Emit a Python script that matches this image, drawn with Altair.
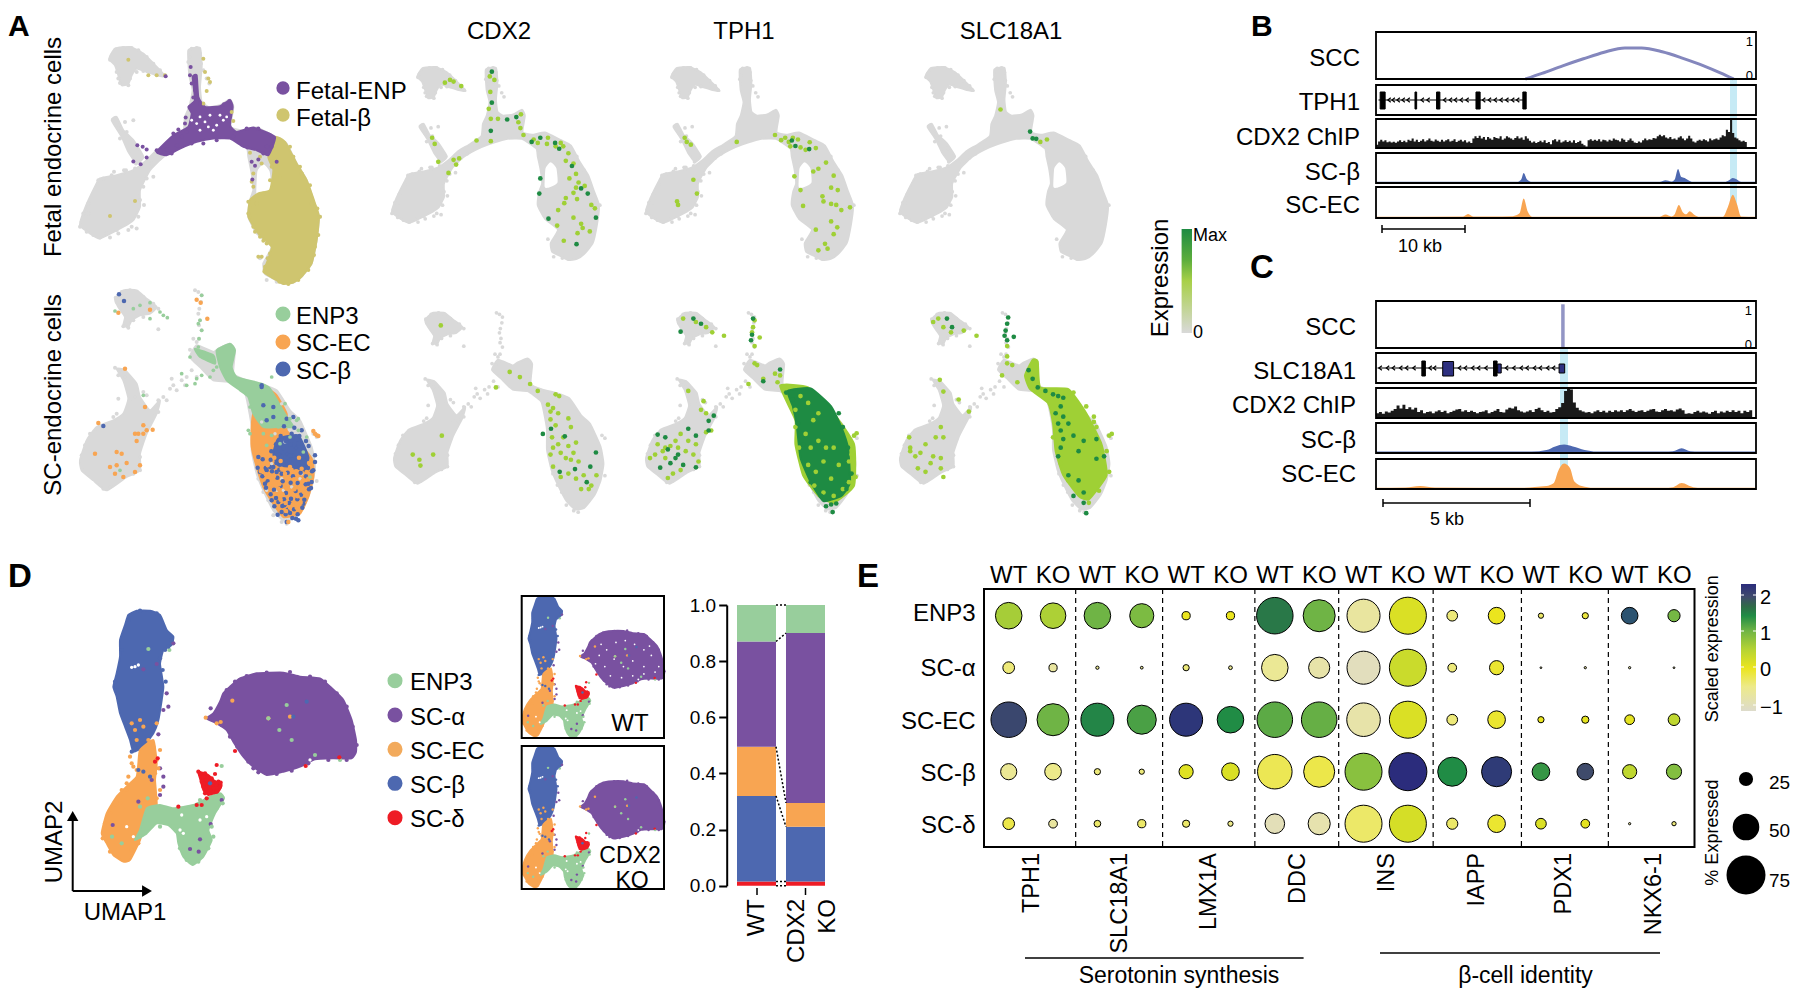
import altair as alt
import pandas as pd

FONT = "Liberation Sans"
BLANK = alt.Data(values=[{"a": 1}])
GRAY = "#D9D9D9"
LIGHT = "#9FD035"
DARK = "#1E8B43"
PURPLE = "#7951A0"
GOLD = "#CFC56F"
GREEN = "#98CE9C"
ORANGE = "#F8A552"
BLUE = "#4D68B0"
RED = "#EE1C25"

# ---------- UMAP shapes (arbitrary embedding units) ----------
F_ISLAND = [(328,175),(345,145),(390,140),(430,160),(470,200),(495,228),(470,225),(440,215),(410,205),(395,225),(385,250),(365,255),(355,225),(345,195)]
F_ARM = [(335,360),(350,350),(370,390),(400,420),(430,470),(410,490),(385,455),(365,410)]
F_MAIN = [(240,675),(255,625),(285,560),(300,535),(350,525),(400,510),(440,480),(470,450),(510,425),(550,395),(555,350),(568,320),(578,270),(568,225),(565,150),(600,143),(605,200),(600,260),(605,305),(625,320),(660,315),(690,298),(700,320),(692,380),(725,390),(770,382),(825,410),(860,430),(890,490),(920,540),(940,600),(957,650),(950,720),(935,790),(905,830),(880,848),(850,852),(825,838),(795,822),(790,790),(815,740),(770,700),(745,650),(750,600),(760,570),(755,520),(745,470),(740,440),(690,405),(640,405),(590,420),(540,440),(490,470),(450,510),(420,570),(420,620),(400,660),(370,680),(300,715),(270,700)]
F_HOLE = [(775,515),(790,495),(806,515),(810,565),(785,580),(772,580)]
F_GRAY_PTS = [(335,165),(330,178),(350,150),(370,143),(395,143),(415,150),(440,170),(460,190),(480,210),(490,225),(355,235),(375,250),(385,255),(360,248),(350,215),(390,235),(410,215),(430,212),(575,145),(590,143),(600,160),(603,190),(570,170),(565,185),(345,355),(375,365),(400,360),(355,385),(380,395),(360,415),(405,440),(420,470),(378,510),(405,505),(245,665),(250,640),(265,610),(285,570),(295,540),(310,535),(335,525),(420,600),(430,560),(440,535),(460,530),(395,680),(410,685),(385,690),(300,712),(280,705),(260,695),(320,700),(350,690),(455,490),(500,460),(480,475),(610,210),(620,235),(628,250),(950,690),(960,650),(905,520),(880,470),(800,840),(830,845),(780,775),(265,640),(240,680),(342,515),(372,510),(408,490),(432,615),(415,650),(355,700),(330,712)]
F_PURPLE = [(470,455),(520,405),(565,380),(575,340),(565,320),(585,300),(578,230),(590,225),(595,290),(615,320),(660,318),(690,300),(698,320),(690,375),(710,395),(760,382),(825,410),(805,465),(770,450),(730,440),(690,415),(640,415),(590,425),(540,445),(500,465)]
F_GOLD = [(825,410),(855,425),(890,490),(920,540),(945,610),(957,650),(950,720),(935,790),(905,830),(880,848),(850,852),(825,838),(790,815),(800,790),(815,740),(775,700),(745,650),(750,600),(775,580),(810,570),(820,510),(805,470)]
F_GOLD_PTS = [(610,175),(615,215),(625,235),(630,245),(620,272),(610,310),(695,335),(700,362),(445,225),(470,225),(495,225),(330,648),(405,603),(385,178),(750,458),(785,490),(760,520),(755,545),(760,560),(790,580),(745,605),(780,470),(840,530),(750,650),(750,620),(745,640),(760,680),(780,710),(800,730),(810,760),(785,770),(795,800),(820,830),(960,650),(950,690),(945,740),(935,610),(925,570),(905,520),(880,470),(810,790),(775,770),(870,440),(900,500),(930,555),(952,625),(955,705),(942,765),(925,810),(895,840),(865,852),(838,845),(765,695),(790,722),(803,775),(770,610),(815,500),(810,540)]
F_PURPLE_PTS = [(497,228),(572,200),(557,352),(535,388),(520,400),(412,435),(428,440),(440,448),(440,472),(400,484),(422,492),(470,450),(755,485),(775,478),(765,497),(757,538),(830,485),(800,440),(742,442),(790,460),(580,292),(585,270),(600,310),(482,452),(500,448),(515,460),(530,435),(545,410),(560,395),(700,410),(740,385),(775,385),(810,405),(815,440),(688,302),(672,312),(575,250),(570,225),(555,370),(585,240),(650,420),(610,430),(575,430)]
F_WHITE = [(600,350),(615,365),(630,345),(650,375),(670,360),(600,390),(640,390),(680,350),(625,380),(660,345),(590,370),(575,360)]

S_ISLAND = [(345,85),(370,60),(410,60),(440,85),(470,110),(450,130),(420,135),(395,150),(385,170),(370,165),(375,140),(355,110)]
S_CENTER = [(570,260),(590,225),(640,245),(655,235),(690,220),(705,240),(700,310),(740,330),(780,340),(830,360),(870,420),(900,450),(935,530),(945,590),(935,650),(915,700),(880,745),(850,750),(820,720),(790,660),(770,610),(755,540),(755,470),(745,410),(735,370),(690,335),(640,330),(600,290)]
S_LEFT = [(240,570),(260,510),(290,470),(340,450),(370,430),(385,385),(370,330),(350,295),(375,300),(410,340),(420,380),(450,420),(480,390),(470,430),(440,490),(420,550),(420,600),(380,620),(320,660),(280,630),(245,600)]
S_GRAY_PTS = [(350,95),(347,82),(365,65),(390,60),(410,65),(430,80),(460,100),(475,115),(370,168),(385,172),(400,150),(430,140),(475,177),(585,60),(595,65),(605,75),(603,95),(598,115),(595,130),(600,150),(597,165),(605,180),(597,205),(590,215),(580,205),(595,240),(570,238),(580,265),(560,320),(545,330),(555,345),(575,300),(590,320),(515,325),(510,355),(530,360),(490,380),(475,390),(500,390),(475,425),(460,438),(520,345),(345,292),(375,320),(355,315),(385,350),(395,385),(405,380),(355,385),(430,365),(440,375),(245,555),(255,525),(270,490),(290,475),(340,440),(350,430),(440,440),(455,440),(420,560),(400,610),(420,600),(310,655),(330,650),(250,600),(775,625),(790,665),(805,690),(820,735),(845,755),(950,632),(780,600),(860,760),(950,500),(940,490)]
S_GREEN1 = [(650,240),(690,220),(705,240),(695,290),(710,320),(785,340),(810,355),(860,440),(880,470),(830,470),(790,470),(760,430),(745,380),(720,360),(680,330),(660,290)]
S_GREEN2 = [(585,235),(640,255),(645,280),(600,260)]
S_ORANGE = [(800,355),(830,375),(860,430),(860,480),(900,520),(938,570),(940,620),(925,680),(900,730),(850,740),(820,700),(790,650),(770,590),(755,530),(755,470),(760,430),(790,390)]
S_BLUE_PTS = [(860,445),(880,440),(852,468),(883,472),(905,480),(842,497),(858,513),(878,502),(898,497),(918,512),(828,522),(851,533),(872,523),(888,533),(911,538),(926,527),(814,543),(837,552),(861,551),(879,556),(902,552),(921,563),(945,555),(788,567),(812,568),(829,578),(851,583),(868,572),(886,592),(907,577),(924,593),(773,592),(797,593),(816,603),(838,598),(863,607),(879,618),(902,607),(918,618),(936,603),(787,618),(803,633),(832,622),(848,633),(872,637),(893,638),(917,642),(933,653),(798,652),(822,658),(842,647),(858,668),(887,662),(903,673),(927,657),(812,672),(828,683),(852,687),(868,698),(892,687),(913,688),(823,708),(847,707),(863,718),(882,717),(907,712),(833,733),(857,732),(877,743),(893,732),(895,750),(860,755),(800,450),(820,410),(790,405),(785,345),(820,440),(775,560),(800,600),(925,640),(845,610),(870,555),(820,590),(900,590),(940,600),(357,72),(372,92),(310,467),(785,350),(845,725),(870,728),(888,745),(910,700),(835,695),(815,690),(795,640),(780,605),(853,705),(873,685),(935,635),(918,600),(945,575),(895,520),(875,490),(810,590),(830,605),(845,560)]
S_BLUE_CORE = [(835,505),(895,495),(925,560),(915,600),(880,590),(835,585),(820,550)]
S_ORANGE_PTS = [(860,620),(882,627),(838,642),(857,652),(883,657),(902,648),(908,632),(848,672),(872,667),(893,678),(842,688),(857,698),(878,703),(902,697),(870,590),(888,603),(842,572),(798,612),(822,617),(783,603),(808,642),(927,578),(933,622),(802,558),(823,562),(788,532),(812,517),(945,490),(950,495),(940,482),(955,497),(897,562),(865,755),(375,295),(295,458),(430,465),(405,490),(415,490),(430,490),(440,480),(458,478),(410,512),(350,545),(365,550),(285,550),(420,585),(405,605),(370,620),(350,585),(330,590),(380,578),(435,410),(345,610),(590,88),(602,97),(622,145),(450,118),(355,127),(870,712),(858,722),(890,712),(825,670),(835,655),(815,635),(925,625),(912,665),(920,605),(775,575),(785,585),(803,585),(855,610),(905,595),(845,595)]
S_GREEN_PTS = [(840,520),(910,545),(800,525),(920,500),(890,450),(870,445),(855,400),(750,490),(820,465),(930,620),(430,375),(360,600),(345,122),(400,115),(450,97),(450,145),(480,125),(490,135),(502,142),(420,105),(605,75),(600,150),(595,160),(605,180),(597,205),(595,230),(570,260),(545,310),(590,325),(605,315),(630,320),(640,300),(650,290),(585,340),(560,345),(815,320),(750,410),(745,480),(870,500),(895,480),(815,495),(790,490),(835,470),(895,445)]
S_SPECK_PTS = [(850,660),(830,660),(800,660),(820,735),(785,455),(825,490),(845,400),(905,610),(855,515),(875,650),(900,625),(845,625),(815,580)]

# ---------- expression points per feature panel ----------
CDX2_F_D = [(180,208),(180,298),(178,380),(210,347),(228,340),(258,412),(275,400),(304,415),(312,432),(337,482),(275,518),(273,562),(355,547),(368,562),(291,635),(384,632),(346,709)]
CDX2_F_L = [(98,232),(88,240),(120,250),(105,237),(176,222),(185,232),(177,267),(174,316),(178,345),(192,345),(237,332),(232,355),(236,372),(242,392),(178,410),(150,408),(63,400),(68,418),(75,470),(95,502),(110,478),(116,460),(105,464),(262,405),(270,415),(290,400),(288,418),(305,425),(315,415),(320,425),(330,445),(325,467),(340,475),(345,505),(332,518),(350,530),(345,545),(340,560),(362,540),(347,578),(325,575),(322,590),(310,610),(375,595),(382,605),(340,632),(355,650),(358,662),(308,655),(348,677),(372,672),(321,699)]
TPH1_F_D = [(768,408),(775,424),(802,433)]
TPH1_F_L = [(558,400),(562,412),(570,420),(660,412),(575,522),(543,585),(545,595),(582,562),(735,392),(747,407),(755,400),(762,412),(770,400),(780,405),(765,425),(785,428),(795,435),(803,413),(815,430),(835,472),(820,490),(810,498),(773,512),(785,552),(850,510),(845,545),(858,552),(828,570),(830,585),(845,592),(855,595),(865,610),(882,602),(790,598),(845,643),(857,660),(815,667),(850,680),(833,708),(838,722),(820,727)]
SLC_F_D = [(1235,382),(1240,402),(1247,403)]
SLC_F_L = [(1177,318),(1268,405),(1255,412)]
CDX2_S_D = [(280,1260),(323,1267),(296,1245),(343,1362),(373,1355),(313,1370),(384,1314),(366,1400)]
CDX2_S_L = [(80,945),(255,1115),(270,1135),(290,1175),(300,1185),(305,1145),(312,1150),(295,1195),(310,1200),(330,1215),(295,1218),(305,1235),(335,1240),(298,1270),(310,1290),(320,1270),(345,1285),(330,1295),(300,1300),(295,1320),(315,1315),(325,1330),(340,1315),(335,1335),(300,1355),(350,1340),(315,1385),(330,1375),(345,1390),(360,1380),(375,1410),(385,1380),(355,1420),(370,1420),(215,1080),(235,1095),(188,1125),(82,1265),(38,1335),(40,1352),(65,1320),(25,1320)]
TPH1_S_UNDER = [(745,1120),(800,1125),(850,1200),(890,1290),(890,1410),(850,1460),(820,1440),(790,1380),(775,1290),(775,1220)]
TPH1_S_MASS = [(760,1135),(805,1128),(845,1180),(865,1240),(878,1300),(882,1400),(865,1440),(830,1455),(805,1400),(785,1330),(778,1240),(770,1180)]
TPH1_S_D = [(575,925),(590,940),(550,963),(692,925),(690,972),(688,988),(745,1073),(712,1107),(605,1222),(615,1207),(520,1270),(505,1262),(525,1305),(565,1245),(580,1265),(545,1320),(530,1345),(555,1350),(540,1330),(510,1358),(580,1357),(605,1250),(757,1140),(770,1160),(845,1465),(835,1470),(855,1462),(848,1487),(868,1240),(878,1300),(885,1375),(875,1420),(805,1400),(825,1440),(790,1290),(780,1230),(860,1200)]
TPH1_S_L = [(555,925),(580,935),(600,950),(612,965),(635,975),(695,930),(692,950),(690,965),(705,980),(695,1005),(695,1055),(700,1060),(745,1090),(735,1085),(683,1115),(712,1100),(740,1110),(565,1135),(595,1165),(590,1190),(600,1200),(505,1290),(520,1300),(500,1320),(490,1330),(515,1310),(530,1295),(540,1280),(550,1260),(565,1280),(580,1290),(545,1300),(560,1310),(520,1330),(575,1320),(585,1340),(535,1375),(525,1388),(550,1365),(600,1255),(610,1250),(895,1258),(890,1265),(885,1320),(880,1340),(893,1385),(880,1400),(775,1240),(820,1280),(805,1300),(830,1340),(815,1370),(845,1390),(835,1300),(810,1220),(830,1430),(800,1170),(820,1200),(785,1150),(775,1190),(795,1260),(782,1300),(800,1350),(812,1410),(850,1300),(860,1350),(868,1420),(850,1440)]
SLC_S_MASS = [(1240,1045),(1250,1050),(1255,1125),(1310,1130),(1345,1200),(1375,1290),(1385,1380),(1350,1450),(1330,1440),(1300,1380),(1285,1310),(1280,1230),(1270,1170),(1235,1130),(1225,1090)]
SLC_S_D = [(1072,925),(1082,950),(1192,922),(1190,940),(1187,960),(1185,975),(1203,978),(1190,988),(1232,1075),(1240,1100),(1250,1125),(1265,1135),(1280,1145),(1290,1150),(1300,1155),(1295,1180),(1285,1200),(1300,1210),(1290,1230),(1310,1230),(1295,1250),(1320,1265),(1300,1275),(1340,1280),(1365,1275),(1295,1300),(1330,1310),(1380,1325),(1365,1332),(1310,1380),(1330,1395),(1320,1440),(1340,1430),(1340,1460),(1345,1490),(1290,1325)]
SLC_S_L = [(1055,925),(1045,935),(1065,950),(1080,965),(1105,960),(1130,975),(1190,1005),(1190,1035),(1190,1055),(1200,1060),(1180,1090),(1210,1110),(1058,1103),(1065,1137),(1095,1160),(1115,1195),(1060,1240),(1050,1270),(1065,1270),(998,1270),(1000,1300),(1030,1290),(1020,1315),(1010,1325),(1045,1325),(1060,1330),(1040,1345),(1015,1360),(1030,1370),(1060,1360),(1065,1385),(1000,1310),(1360,1225),(1390,1265),(1360,1210),(1395,1260),(1320,1140),(1345,1180),(1365,1240),(1385,1310),(1390,1370),(1370,1425),(1350,1460),(1310,1395),(1295,1345),(1280,1270)]

# ---------- panel D umap ----------
D_BLUE = [(385,195),(410,182),(450,182),(480,195),(500,240),(520,260),(515,285),(490,300),(480,340),(485,375),(490,410),(485,450),(475,510),(460,550),(430,590),(400,605),(390,570),(375,530),(360,490),(350,440),(340,410),(350,370),(360,320),(360,270),(375,225)]
D_ORANGE = [(420,600),(460,570),(470,640),(465,690),(470,770),(440,800),(420,870),(390,930),(370,935),(340,915),(320,880),(305,850),(320,790),(350,740),(385,705),(410,680),(415,640)]
D_GREEN = [(440,775),(480,765),(520,775),(580,765),(620,745),(660,730),(672,745),(645,790),(625,840),(635,870),(610,920),(578,945),(550,920),(535,880),(530,850),(505,825),(470,820),(440,850),(405,870),(420,840)]
D_RED = [(595,665),(625,675),(640,690),(665,705),(655,725),(625,735),(610,720),(600,685)]
D_PURPLE = [(620,505),(640,490),(660,455),(670,430),(690,410),(720,385),(770,370),(850,368),(900,380),(960,385),(990,410),(1030,450),(1055,510),(1068,570),(1068,605),(1055,625),(1000,625),(945,628),(900,650),(850,665),(800,675),(760,650),(730,620),(700,575),(680,540),(650,520)]
D_P_PTS = [(520,280),(500,430),(505,470),(490,480),(475,553),(470,342),(480,655),(490,680),(490,710),(480,735),(430,358),(338,825),(570,897),(596,905),(600,868),(665,750),(632,822),(632,475),(760,655),(775,667),(415,755),(455,690),(680,420),(705,395),(740,378),(800,368),(870,366),(930,380),(975,395),(1010,430),(1040,470),(1058,530),(1070,585),(1040,630),(985,630),(925,640),(875,662),(830,672),(745,635),(712,590),(690,560),(665,525),(640,510)]
D_O_PTS = [(405,540),(420,510),(395,520),(430,530),(410,570),(445,570),(470,520),(480,600),(460,590),(390,620),(400,650),(380,700),(365,720),(360,760),(480,720),(470,630),(617,503),(650,520),(662,516),(697,452),(805,505),(870,500),(395,640),(410,660),(465,670),(475,655),(385,680),(378,720),(345,765),(330,790),(315,820),(308,865),(330,905),(395,900),(415,880),(440,750),(470,745)]
D_G_PTS = [(445,297),(508,300),(805,505),(838,540),(875,570),(945,615),(1020,630),(420,770),(443,745),(336,860),(665,648),(365,880),(860,465),(600,750),(640,745),(668,760),(650,775),(635,830),(640,860),(625,895),(595,935),(560,930),(540,895),(520,830),(480,830),(420,860)]
D_R_PTS = [(595,665),(615,670),(610,680),(605,695),(620,690),(635,685),(650,645),(645,672),(650,700),(660,710),(640,715),(625,700),(610,710),(615,730),(620,745),(605,765),(590,765),(705,603),(917,648),(473,625),(465,635),(535,770),(650,725),(630,720),(655,695),(1018,622),(600,672),(628,712),(648,705),(662,698),(612,700)]
D_B_PTS = [(630,700),(415,660),(430,665),(450,680),(395,605),(920,455),(880,500),(480,325),(505,290),(515,270),(495,300),(488,360),(497,395),(350,420),(345,395),(365,300),(385,210),(420,182),(470,190),(405,590)]
D_W_PTS = [(405,350),(415,345),(395,352),(540,840),(550,850),(600,810),(620,800),(380,830),(400,860),(930,630),(545,795)]
WT_WHITE = [(720,500),(760,470),(810,430),(860,420),(910,440),(960,470),(1000,500),(1040,560),(1020,590),(960,560),(900,530),(850,560),(800,520),(750,560),(700,545),(780,610),(840,620),(900,610),(960,600),(990,450),(730,440)]

# ---------- panel D bars ----------
SEGMENTS = ["SC-δ", "SC-β", "SC-EC", "SC-α", "ENP3"]
SEG_COLORS = [RED, BLUE, ORANGE, PURPLE, GREEN]
WT_FRACTIONS = [0.015, 0.305, 0.175, 0.375, 0.13]
KO_FRACTIONS = [0.015, 0.195, 0.085, 0.605, 0.10]

# ---------- panel E dot plot ----------
GENES = ["TPH1", "SLC18A1", "LMX1A", "DDC", "INS", "IAPP", "PDX1", "NKX6-1"]
CELLS = ["ENP3", "SC-α", "SC-EC", "SC-β", "SC-δ"]
EXPR = {
    "ENP3":  [.6,.55,1.0,.9,0,0,1.55,1.0,-.7,.15,-.4,0,-.3,-.1,1.85,.95],
    "SC-α":  [-.4,-.7,-.6,-.7,-.4,-.6,-.6,-.8,-1.0,.3,-.4,-.05,-.8,-.7,-.8,-.8],
    "SC-EC": [1.95,1.0,1.45,1.2,2.15,1.4,1.1,1.05,-.8,.15,-.4,-.05,0,.05,.05,.4],
    "SC-β":  [-.6,-.5,-.4,-.4,.1,.15,-.2,-.15,.8,2.25,1.4,2.1,1.3,1.9,.4,.85],
    "SC-δ":  [-.15,-.7,-.3,-.3,-.3,-.5,-.95,-.85,-.3,.2,-.3,-.05,.15,.05,-.7,-.4],
}
PCT = {
    "ENP3":  [50,48,50,45,13,13,70,61,63,71,18,30,7,9,30,21],
    "SC-α":  [20,13,3,2,9,4,50,39,63,71,14,25,0,1,1,0],
    "SC-EC": [68,61,63,55,63,50,68,68,64,71,18,32,9,11,16,20],
    "SC-β":  [29,30,9,7,25,32,66,59,71,73,55,57,32,30,25,27],
    "SC-δ":  [20,14,10,13,11,7,36,41,71,71,19,32,18,14,1,5],
}
SEPARATORS = [1.51, 3.47, 5.55, 7.44, 9.57, 11.56, 13.52]
SIZE_LEGEND = [25, 50, 75]
E_DOMAIN = [-1.15, -.5, 0, .5, 1, 1.4, 1.65, 1.9, 2.25]
E_COLORS = ["#DDDBCB", "#EDEA8A", "#EBE51E", "#B5D334", "#6FB445", "#208C45", "#2F6A48", "#3F4B6B", "#2B2C7C"]

# ---------- panel B / C tracks ----------
B_ARC_X = [18,20,22.5,25,27.5,30,32,34.5,37,39.5,41.5,43.1]
B_ARC_Y = [0,.12,.28,.43,.57,.66,.66,.58,.44,.28,.13,0]
B_CHIP = [.08,.2,.26,.2,.24,.17,.2,.16,.19,.15,.2,.24,.18,.22,.17,.26,.22,.3,.2,.26,.18,.22,.28,.2,.24,.3,.22,.2,.27,.22,.19,.26,.2,.24,.28,.2,.22,.28,.18,.22,.26,.2,.24,.16,.2,.14,.3,.38,.32,.4,.3,.36,.26,.36,.3,.26,.36,.32,.3,.38,.26,.3,.38,.34,.3,.26,.32,.38,.3,.34,.26,.38,.3,.22,.16,.2,.14,.18,.22,.17,.24,.14,.18,.1,.24,.28,.2,.26,.16,.2,.24,.18,.22,.16,.24,.14,.18,.22,.12,.06,.02,.24,.28,.22,.26,.22,.28,.2,.26,.24,.2,.26,.22,.3,.26,.24,.2,.3,.26,.18,.24,.3,.22,.16,.14,.2,.16,.24,.3,.24,.28,.26,.32,.3,.38,.44,.38,.42,.34,.3,.36,.28,.3,.26,.34,.38,.3,.24,.3,.4,.3,.2,.16,.22,.26,.22,.28,.24,.2,.3,.24,.28,.3,.26,.34,.42,.38,.62,.54,.98,.5,.34,.3,.24,.2,.22,.18,.2]
B_BETA_X = [0,17,17.5,17.8,18.2,18.8,30,34.2,34.9,35.6,36,36.4,36.8,37.2,37.6,38.2,42,42.6,43,43.5,44,45.8]
B_BETA_Y = [.04,.04,.12,.33,.12,.04,.04,.04,.09,.05,.12,.47,.2,.17,.1,.04,.04,.1,.17,.12,.04,.04]
B_EC_X = [0,10.5,11.1,11.7,14,16.5,17.3,17.8,18.3,18.8,25,34.2,34.9,35.6,36,36.5,37,37.4,37.8,38.4,39,41.8,42.4,43,43.5,44,45.8]
B_EC_Y = [.04,.05,.13,.05,.05,.06,.15,.63,.2,.04,.04,.04,.11,.05,.12,.42,.18,.12,.22,.1,.04,.04,.35,.75,.45,.05,.04]
TPH1_LINE = [0.3, 17.9]
TPH1_EX_L = [0.5, 4.7, 7.3, 12.05, 17.7]
TPH1_EX_R = [1.1, 4.9, 7.7, 12.55, 18.1]
TPH1_CHEV = [1.6,2.1,2.7,3.3,3.9,5.6,6.3,8.3,9,9.6,10.3,11,13,13.7,14.4,15.1,15.8,16.5,17.1]

C_CHIP = [.16,.2,.14,.22,.18,.24,.3,.42,.32,.44,.3,.36,.28,.34,.2,.26,.16,.2,.22,.16,.22,.26,.2,.24,.16,.2,.24,.28,.3,.22,.26,.2,.24,.2,.16,.2,.22,.26,.16,.2,.24,.3,.2,.18,.28,.34,.32,.38,.26,.22,.18,.22,.26,.2,.3,.34,.26,.2,.24,.18,.2,.3,.36,.5,.9,1.0,.95,.52,.34,.26,.22,.18,.2,.16,.22,.26,.2,.24,.18,.24,.2,.26,.22,.26,.2,.26,.3,.24,.2,.24,.26,.2,.24,.28,.3,.22,.2,.26,.3,.24,.26,.22,.28,.32,.26,.14,.16,.14,.2,.24,.18,.22,.18,.14,.2,.24,.16,.22,.18,.24,.2,.26,.2,.24,.16,.24,.2,.26,.2]
C_BETA_X = [0,5.3,5.8,6.1,6.4,6.7,7.1,7.5,9.8,10.1,10.4,10.7,11,12.9]
C_BETA_Y = [.05,.05,.1,.22,.28,.22,.1,.05,.05,.06,.16,.06,.05,.05]
C_EC_X = [0,1.0,1.5,2.0,5.0,5.4,5.8,6.05,6.2,6.4,6.6,6.75,7.0,7.4,9.8,10.1,10.4,10.8,11.1,12.9]
C_EC_Y = [.04,.05,.1,.05,.04,.07,.1,.2,.6,.85,.7,.25,.1,.04,.04,.06,.2,.06,.04,.04]
SLC_LINE = [0.05, 6.3]
SLC_THIN_L = [1.56, 4.0]
SLC_THIN_R = [1.68, 4.12]
SLC_BIG_L = [2.27]
SLC_BIG_R = [2.64]
SLC_SMALL_L = [4.14, 6.23]
SLC_SMALL_R = [4.26, 6.42]
SLC_CHEV = [.15,.4,.6,.85,1.05,1.3,1.85,2.0,2.85,3.05,3.3,3.5,3.75,4.45,4.7,4.95,5.15,5.4,5.6,5.85,6.05]


# ---------- helpers ----------
def sc(domain, rng):
    return alt.Scale(domain=domain, range=[rng[0] - 8, rng[1] - 8], nice=False, zero=False)


def pts(points, sx, sy, color, size):
    df = pd.DataFrame(points, columns=["u", "v"])
    return alt.Chart(df).mark_circle(size=size, color=color, opacity=1).encode(
        x=alt.X("u:Q", scale=sx, axis=None), y=alt.Y("v:Q", scale=sy, axis=None))


def poly(points, sx, sy, color):
    df = pd.DataFrame(points, columns=["u", "v"])
    df["i"] = range(len(df))
    return alt.Chart(df).mark_line(fill=color, stroke=color, strokeWidth=2, interpolate="cardinal-closed", tension=0.55).encode(
        x=alt.X("u:Q", scale=sx, axis=None), y=alt.Y("v:Q", scale=sy, axis=None), order=alt.Order("i:Q"))


def label(s, x, y, size=24, align="left", baseline="middle", angle=0, weight="normal"):
    if angle == 0:
        y += 2.5
    else:
        x += 2
    return alt.Chart(BLANK).mark_text(text=s, font=FONT, fontSize=size, align=align, baseline=baseline,
                                      angle=angle, fontWeight=weight, color="black").encode(
        x=alt.value(x - 8), y=alt.value(y - 8))


def rule(x1, y1, x2, y2, width=1.5, color="black", dash=None):
    kw = {"strokeDash": dash} if dash else {}
    return alt.Chart(BLANK).mark_rule(color=color, strokeWidth=width, **kw).encode(
        x=alt.value(x1 - 8), x2=alt.value(x2 - 8), y=alt.value(y1 - 8), y2=alt.value(y2 - 8))


def box(x1, y1, x2, y2, fill=None, stroke="black", width=2):
    kw = {"fill": fill, "strokeWidth": 0} if fill else {"fillOpacity": 0, "stroke": stroke, "strokeWidth": width}
    return alt.Chart(BLANK).mark_rect(**kw).encode(
        x=alt.value(x1 - 8), x2=alt.value(x2 - 8), y=alt.value(y1 - 8), y2=alt.value(y2 - 8))


def dot(x, y, color, size):
    return alt.Chart(BLANK).mark_circle(color=color, size=size, opacity=1).encode(
        x=alt.value(x - 8), y=alt.value(y - 8))


layers = []

# ---------- Panel A ----------
F_DX, F_DY = [240, 957], [140, 852]
S_DX, S_DY = [240, 957], [50, 770]


def fetal_base(xr, yr, size):
    sx, sy = sc(F_DX, xr), sc(F_DY, yr)
    return [poly(F_ISLAND, sx, sy, GRAY), poly(F_ARM, sx, sy, GRAY), poly(F_MAIN, sx, sy, GRAY),
            poly(F_HOLE, sx, sy, "white"), pts(F_GRAY_PTS, sx, sy, GRAY, size)]


def sc_base(xr, yr, size):
    sx, sy = sc(S_DX, xr), sc(S_DY, yr)
    return [poly(S_ISLAND, sx, sy, GRAY), poly(S_CENTER, sx, sy, GRAY), poly(S_LEFT, sx, sy, GRAY),
            pts(S_GRAY_PTS, sx, sy, GRAY, size)]


P1_X = (80, 319)
PF_Y = (47, 284)
PS_Y = (287, 527)
layers += fetal_base(P1_X, PF_Y, 16)
sx, sy = sc(F_DX, P1_X), sc(F_DY, PF_Y)
layers += [poly(F_GOLD, sx, sy, GOLD), poly(F_PURPLE, sx, sy, PURPLE),
           pts(F_WHITE, sx, sy, "white", 8), pts(F_GOLD_PTS, sx, sy, GOLD, 16), pts(F_PURPLE_PTS, sx, sy, PURPLE, 16)]
layers += sc_base(P1_X, PS_Y, 16)
sx, sy = sc(S_DX, P1_X), sc(S_DY, PS_Y)
layers += [poly(S_GREEN2, sx, sy, GREEN), poly(S_ORANGE, sx, sy, ORANGE), poly(S_GREEN1, sx, sy, GREEN),
           poly(S_BLUE_CORE, sx, sy, BLUE), pts(S_SPECK_PTS, sx, sy, GRAY, 12),
           pts(S_BLUE_PTS, sx, sy, BLUE, 20), pts(S_ORANGE_PTS, sx, sy, ORANGE, 20),
           pts(S_GREEN_PTS, sx, sy, GREEN, 14)]

FEAT_X_F = [(392, 599), (646, 853), (900, 1108)]
FEAT_X_S = [(394, 607), (646, 859), (900, 1113)]
for r in FEAT_X_F:
    layers += fetal_base(r, (67, 260), 14)
for r in FEAT_X_S:
    layers += sc_base(r, (310, 515), 14)
ZX, ZY = sc([0, 1568], (400, 1200)), sc([0, 1568], (0, 540))
layers += [poly(TPH1_S_UNDER, ZX, ZY, LIGHT), poly(TPH1_S_MASS, ZX, ZY, DARK), poly(SLC_S_MASS, ZX, ZY, LIGHT)]
for lst in (CDX2_F_L, TPH1_F_L, SLC_F_L, CDX2_S_L, TPH1_S_L, SLC_S_L):
    layers.append(pts(lst, ZX, ZY, LIGHT, 22))
for lst in (CDX2_F_D, TPH1_F_D, SLC_F_D, CDX2_S_D, TPH1_S_D, SLC_S_D):
    layers.append(pts(lst, ZX, ZY, DARK, 22))

layers += [
    label("A", 8, 24, 30, weight="bold"),
    label("Fetal endocrine cells", 52, 147, 24, "center", angle=270),
    label("SC-endocrine cells", 52, 395, 24, "center", angle=270),
    label("CDX2", 499, 29, 24, "center"), label("TPH1", 744, 29, 24, "center"), label("SLC18A1", 1011, 29, 24, "center"),
    dot(283, 88, PURPLE, 177), dot(283, 115, GOLD, 177),
    label("Fetal-ENP", 296, 89), label("Fetal-β", 296, 116),
    dot(283, 314, GREEN, 227), dot(283, 342, ORANGE, 227), dot(283, 369, BLUE, 227),
    label("ENP3", 296, 314), label("SC-EC", 296, 341), label("SC-β", 296, 369),
    label("Expression", 1159, 278, 24, "center", angle=270),
    alt.Chart(BLANK).mark_rect(fill=alt.Gradient(gradient="linear", x1=0, x2=0, y1=1, y2=0, stops=[
        alt.GradientStop(color="#D9D9D9", offset=0), alt.GradientStop(color="#A8D048", offset=0.5),
        alt.GradientStop(color="#5DAE3C", offset=0.7), alt.GradientStop(color=DARK, offset=1)])).encode(
        x=alt.value(1181.6 - 8), x2=alt.value(1192 - 8), y=alt.value(229 - 8), y2=alt.value(333 - 8)),
    label("Max", 1193, 233, 18), label("0", 1193, 330, 18),
]

# ---------- Panel B ----------
BX = sc([0, 45.8], (1376, 1756))
for lbl, y in [("SCC", 56), ("TPH1", 100), ("CDX2 ChIP", 135), ("SC-β", 170), ("SC-EC", 203)]:
    layers.append(label(lbl, 1360, y, 24, "right"))
layers += [label("B", 1251, 24, 30, weight="bold"), box(1730, 79, 1737, 217, fill="#C6EAF5")]


def line_track(xs, ys, sxx, y0, y1, color, width=3, interp="monotone"):
    df = pd.DataFrame({"k": xs, "v": ys})
    return alt.Chart(df).mark_line(color=color, strokeWidth=width, interpolate=interp).encode(
        x=alt.X("k:Q", scale=sxx, axis=None), y=alt.Y("v:Q", scale=sc([0, 1], (y0, y1)), axis=None))


def area_track(xs, ys, sxx, y0, y1, color, interp="monotone"):
    df = pd.DataFrame({"k": xs, "v": ys})
    return alt.Chart(df).mark_area(color=color, interpolate=interp, opacity=1).encode(
        x=alt.X("k:Q", scale=sxx, axis=None), y=alt.Y("v:Q", stack=None, scale=sc([0, 1], (y0, y1)), axis=None))


def gene_bars(ls, rs, sxx, y0, y1, fill):
    df = pd.DataFrame({"l": ls, "r": rs})
    return alt.Chart(df).mark_rect(fill=fill, stroke="black", strokeWidth=1).encode(
        x=alt.X("l:Q", scale=sxx, axis=None), x2="r:Q", y=alt.value(y0 - 8), y2=alt.value(y1 - 8))


CHEVRON = "M0.5,-0.8L-0.5,0L0.5,0.8"


def gene_line(span, chev, sxx, y):
    d1 = pd.DataFrame({"k": span, "v": [0, 0]})
    d2 = pd.DataFrame({"k": chev})
    return [alt.Chart(d1).mark_line(color="black", strokeWidth=1.2).encode(
                x=alt.X("k:Q", scale=sxx, axis=None), y=alt.value(y - 8)),
            alt.Chart(d2).mark_point(shape=CHEVRON, size=34, color="black", filled=False, strokeWidth=1.2, opacity=1).encode(
                x=alt.X("k:Q", scale=sxx, axis=None), y=alt.value(y - 8))]


layers.append(line_track(B_ARC_X, B_ARC_Y, BX, 79, 32, "#8487BD", 3))
layers += gene_line(TPH1_LINE, TPH1_CHEV, BX, 100)
layers.append(gene_bars(TPH1_EX_L, TPH1_EX_R, BX, 92, 109, "black"))
layers.append(area_track([i * 0.2525 for i in range(len(B_CHIP))], B_CHIP, BX, 147, 119, "#1A1A1A", "step-after"))
layers.append(area_track(B_BETA_X, B_BETA_Y, BX, 183, 153, BLUE))
layers.append(area_track(B_EC_X, B_EC_Y, BX, 218, 187, ORANGE))
for y0, y1 in [(32, 79), (85, 115), (119, 148), (153, 183), (187, 218)]:
    layers.append(box(1376, y0, 1756, y1, width=1.8))
layers += [label("1", 1753, 39, 13, "right"), label("0", 1753, 73, 13, "right"),
           rule(1382, 229, 1465, 229, 1.5), rule(1382, 225, 1382, 233, 1.5), rule(1465, 225, 1465, 233, 1.5),
           label("10 kb", 1420, 244, 18, "center")]

# ---------- Panel C ----------
CX = sc([0, 12.93], (1376, 1756))
for lbl, y in [("SCC", 325), ("SLC18A1", 369), ("CDX2 ChIP", 403), ("SC-β", 438), ("SC-EC", 472)]:
    layers.append(label(lbl, 1356, y, 24, "right"))
layers += [label("C", 1250, 265, 33, weight="bold"), box(1560, 348, 1568, 488, fill="#C6EAF5")]
layers.append(line_track([6.36, 6.36], [0, .93], CX, 348, 301, "#9295C5", 3.5, "linear"))
layers += gene_line(SLC_LINE, SLC_CHEV, CX, 368)
layers += [gene_bars(SLC_THIN_L, SLC_THIN_R, CX, 361, 376, "black"),
           gene_bars(SLC_BIG_L, SLC_BIG_R, CX, 361.5, 376, "#2E3080"),
           gene_bars(SLC_SMALL_L, SLC_SMALL_R, CX, 364, 373, "#2E3080")]
layers.append(area_track([i * 0.1 for i in range(len(C_CHIP))], C_CHIP, CX, 418, 388, "#1A1A1A", "step-after"))
layers.append(area_track(C_BETA_X, C_BETA_Y, CX, 453, 423, BLUE))
layers.append(area_track(C_EC_X, C_EC_Y, CX, 489, 459, ORANGE))
for y0, y1 in [(301, 348), (353, 383), (388, 418), (423, 453), (459, 489)]:
    layers.append(box(1376, y0, 1756, y1, width=1.8))
layers += [label("1", 1752, 308, 13, "right"), label("0", 1752, 342, 13, "right"),
           rule(1383, 503, 1530, 503, 1.5), rule(1383, 499, 1383, 507, 1.5), rule(1530, 499, 1530, 507, 1.5),
           label("5 kb", 1447, 517, 18, "center")]


# ---------- Panel D ----------
def d_umap(xr, yr, size, sparse=False):
    sx, sy = sc([305, 1068], xr), sc([180, 945], yr)
    out = [poly(D_PURPLE, sx, sy, PURPLE), poly(D_BLUE, sx, sy, BLUE), poly(D_ORANGE, sx, sy, ORANGE),
           poly(D_GREEN, sx, sy, GREEN), poly(D_RED, sx, sy, RED),
           pts(D_W_PTS, sx, sy, "white", size * 0.6),
           pts(D_P_PTS, sx, sy, PURPLE, size), pts(D_O_PTS, sx, sy, ORANGE, size),
           pts(D_G_PTS, sx, sy, GREEN, size), pts(D_R_PTS, sx, sy, RED, size), pts(D_B_PTS, sx, sy, BLUE, size)]
    if sparse:
        out.append(pts(WT_WHITE, sx, sy, "white", size * 0.5))
    return out


layers += [label("D", 8, 574, 33, weight="bold")]
layers += d_umap((101.7, 356), (610, 865), 18)
layers += [rule(72.7, 891, 72.7, 818, 2), rule(72.7, 891, 146, 891, 2)]
for shape, x, y in [("triangle-up", 72.7, 816), ("triangle-right", 147, 891)]:
    layers.append(alt.Chart(BLANK).mark_point(shape=shape, size=130, filled=True, color="black", opacity=1).encode(
        x=alt.value(x - 8), y=alt.value(y - 8)))
layers += [label("UMAP1", 125, 910, 24, "center"), label("UMAP2", 53, 842, 24, "center", angle=270)]
for lbl, y, c in zip(["ENP3", "SC-α", "SC-EC", "SC-β", "SC-δ"], [680.7, 715, 749.3, 783.3, 817.7],
                     [GREEN, PURPLE, "#F2AA5C", BLUE, RED]):
    layers += [dot(395, y, c, 227), label(lbl, 410, y, 24)]

layers += d_umap((522, 664), (596, 738), 6, sparse=True)
layers += d_umap((522, 664), (746, 889), 6)
layers += [box(521.7, 596, 664, 738), box(521.7, 746, 664, 889),
           label("WT", 630, 721, 24, "center"), label("CDX2", 630, 853, 23, "center"), label("KO", 632, 878, 23, "center")]

bars = pd.DataFrame(
    [{"g": "WT", "s": s, "k": i, "v": v} for i, (s, v) in enumerate(zip(SEGMENTS, WT_FRACTIONS))] +
    [{"g": "CDX2 KO", "s": s, "k": i, "v": v} for i, (s, v) in enumerate(zip(SEGMENTS, KO_FRACTIONS))])
BAR_Y = sc([0, 1], (885.7, 605))
layers.append(alt.Chart(bars).mark_bar(opacity=1).encode(
    x=alt.X("g:N", sort=["WT", "CDX2 KO"], axis=None,
            scale=alt.Scale(domain=["WT", "CDX2 KO"], range=[737 - 8, 825 - 8], paddingInner=0.204, paddingOuter=0)),
    y=alt.Y("v:Q", stack="zero", scale=BAR_Y,
            axis=alt.Axis(orient="left", offset=-(726.7 - 8), values=[0, .2, .4, .6, .8, 1], format=".1f", grid=False,
                          title=None, domainColor="black", domainWidth=2, tickColor="black", tickWidth=2, tickSize=8,
                          labelFont=FONT, labelFontSize=19, labelColor="black", labelPadding=3)),
    color=alt.Color("s:N", legend=None, scale=alt.Scale(domain=SEGMENTS, range=SEG_COLORS)),
    order=alt.Order("k:Q")))
tops_w, tops_k, a, b = [0.0], [0.0], 0.0, 0.0
for w, k in zip(WT_FRACTIONS, KO_FRACTIONS):
    a += w
    b += k
    tops_w.append(a)
    tops_k.append(b)
conn = pd.DataFrame([{"n": i, "u": u, "v": v} for i, (p, q) in enumerate(zip(tops_w, tops_k)) for u, v in ((0, p), (1, q))])
layers.append(alt.Chart(conn).mark_line(color="black", strokeWidth=1.5, strokeDash=[2, 2]).encode(
    x=alt.X("u:Q", scale=sc([0, 1], (776, 786)), axis=None), y=alt.Y("v:Q", scale=BAR_Y, axis=None), detail="n:N"))
layers += [rule(757, 888, 757, 895, 1.5), rule(805.5, 888, 805.5, 895, 1.5),
           label("WT", 755, 899, 24, "right", angle=270),
           label("CDX2", 795, 899, 24, "right", angle=270), label("KO", 826, 899, 24, "right", angle=270)]

# ---------- Panel E ----------
DX = sc([0, 15], (1008.7, 1674))
DY = sc([0, 4], (615.7, 823.7))
seps = pd.DataFrame({"s": SEPARATORS})
layers.append(alt.Chart(seps).mark_rule(color="black", strokeWidth=1.2, strokeDash=[5, 4]).encode(
    x=alt.X("s:Q", scale=DX, axis=None), y=alt.value(589 - 8), y2=alt.value(847 - 8)))
recs = [{"c": j, "r": i, "e": EXPR[cell][j], "p": PCT[cell][j]} for i, cell in enumerate(CELLS) for j in range(16)]
layers.append(alt.Chart(pd.DataFrame(recs)).transform_calculate(
    a="PI/4*pow(2+0.56*datum.p,2)").mark_circle(stroke="black", strokeWidth=1, opacity=1).encode(
    x=alt.X("c:Q", scale=DX, axis=None), y=alt.Y("r:Q", scale=DY, axis=None),
    size=alt.Size("a:Q", scale=None, legend=None),
    color=alt.Color("e:Q", legend=None, scale=alt.Scale(domain=E_DOMAIN, range=E_COLORS))))
layers.append(box(984, 589, 1694.5, 847, width=2))
layers.append(label("E", 857, 574, 33, weight="bold"))
for j in range(16):
    layers.append(label("WT" if j % 2 == 0 else "KO", 1008.7 + j * 44.37, 573, 24, "center"))
for cell, y in zip(CELLS, [611.7, 666.7, 719, 771.7, 823]):
    layers.append(label(cell, 975.7, y, 24, "right"))
for g, x in zip(GENES, [1030, 1118, 1207, 1295.5, 1385, 1475, 1562, 1651.6]):
    layers.append(label(g, x, 853, 23.5, "right", angle=270))
layers += [rule(1025, 958, 1303.6, 958, 1.5), rule(1380, 953, 1660, 953, 1.5),
           label("Serotonin synthesis", 1179, 973, 23, "center"), label("β-cell identity", 1525.5, 973, 23, "center"),
           label("Scaled expression", 1711, 648.7, 18, "center", angle=270),
           label("% Expressed", 1711, 832.6, 18, "center", angle=270)]
layers.append(alt.Chart(BLANK).mark_rect(fill=alt.Gradient(gradient="linear", x1=0, x2=0, y1=1, y2=0, stops=[
    alt.GradientStop(color=c, offset=(d - E_DOMAIN[0]) / (E_DOMAIN[-1] - E_DOMAIN[0])) for d, c in zip(E_DOMAIN, E_COLORS)])).encode(
    x=alt.value(1741 - 8), x2=alt.value(1756 - 8), y=alt.value(584 - 8), y2=alt.value(711 - 8)))
for t, y in zip(["2", "1", "0", "−1"], [595, 631, 667, 705]):
    layers += [rule(1741, y, 1744, y, 1, "white"), rule(1753, y, 1756, y, 1, "white"),
               label(t, 1760, y, 20)]
leg = pd.DataFrame({"p": SIZE_LEGEND, "r": [0, 1, 2]})
layers.append(alt.Chart(leg).transform_calculate(a="PI/4*pow(2+0.56*datum.p,2)").mark_circle(color="black", opacity=1).encode(
    x=alt.value(1746 - 8), y=alt.Y("r:Q", scale=sc([0, 2], (779, 875)), axis=None), size=alt.Size("a:Q", scale=None, legend=None)))
for t, y in zip(SIZE_LEGEND, [780, 828, 878]):
    layers.append(label(str(t), 1769, y, 19))

chart = alt.layer(*layers).resolve_scale(x="independent", y="independent", color="independent", size="independent").properties(
    width=1784, height=980, padding=0, autosize=alt.AutoSizeParams(type="none"), background="white"
).configure_view(strokeWidth=0)

chart.save("out.html", embed_options={"renderer": "svg", "actions": False})
